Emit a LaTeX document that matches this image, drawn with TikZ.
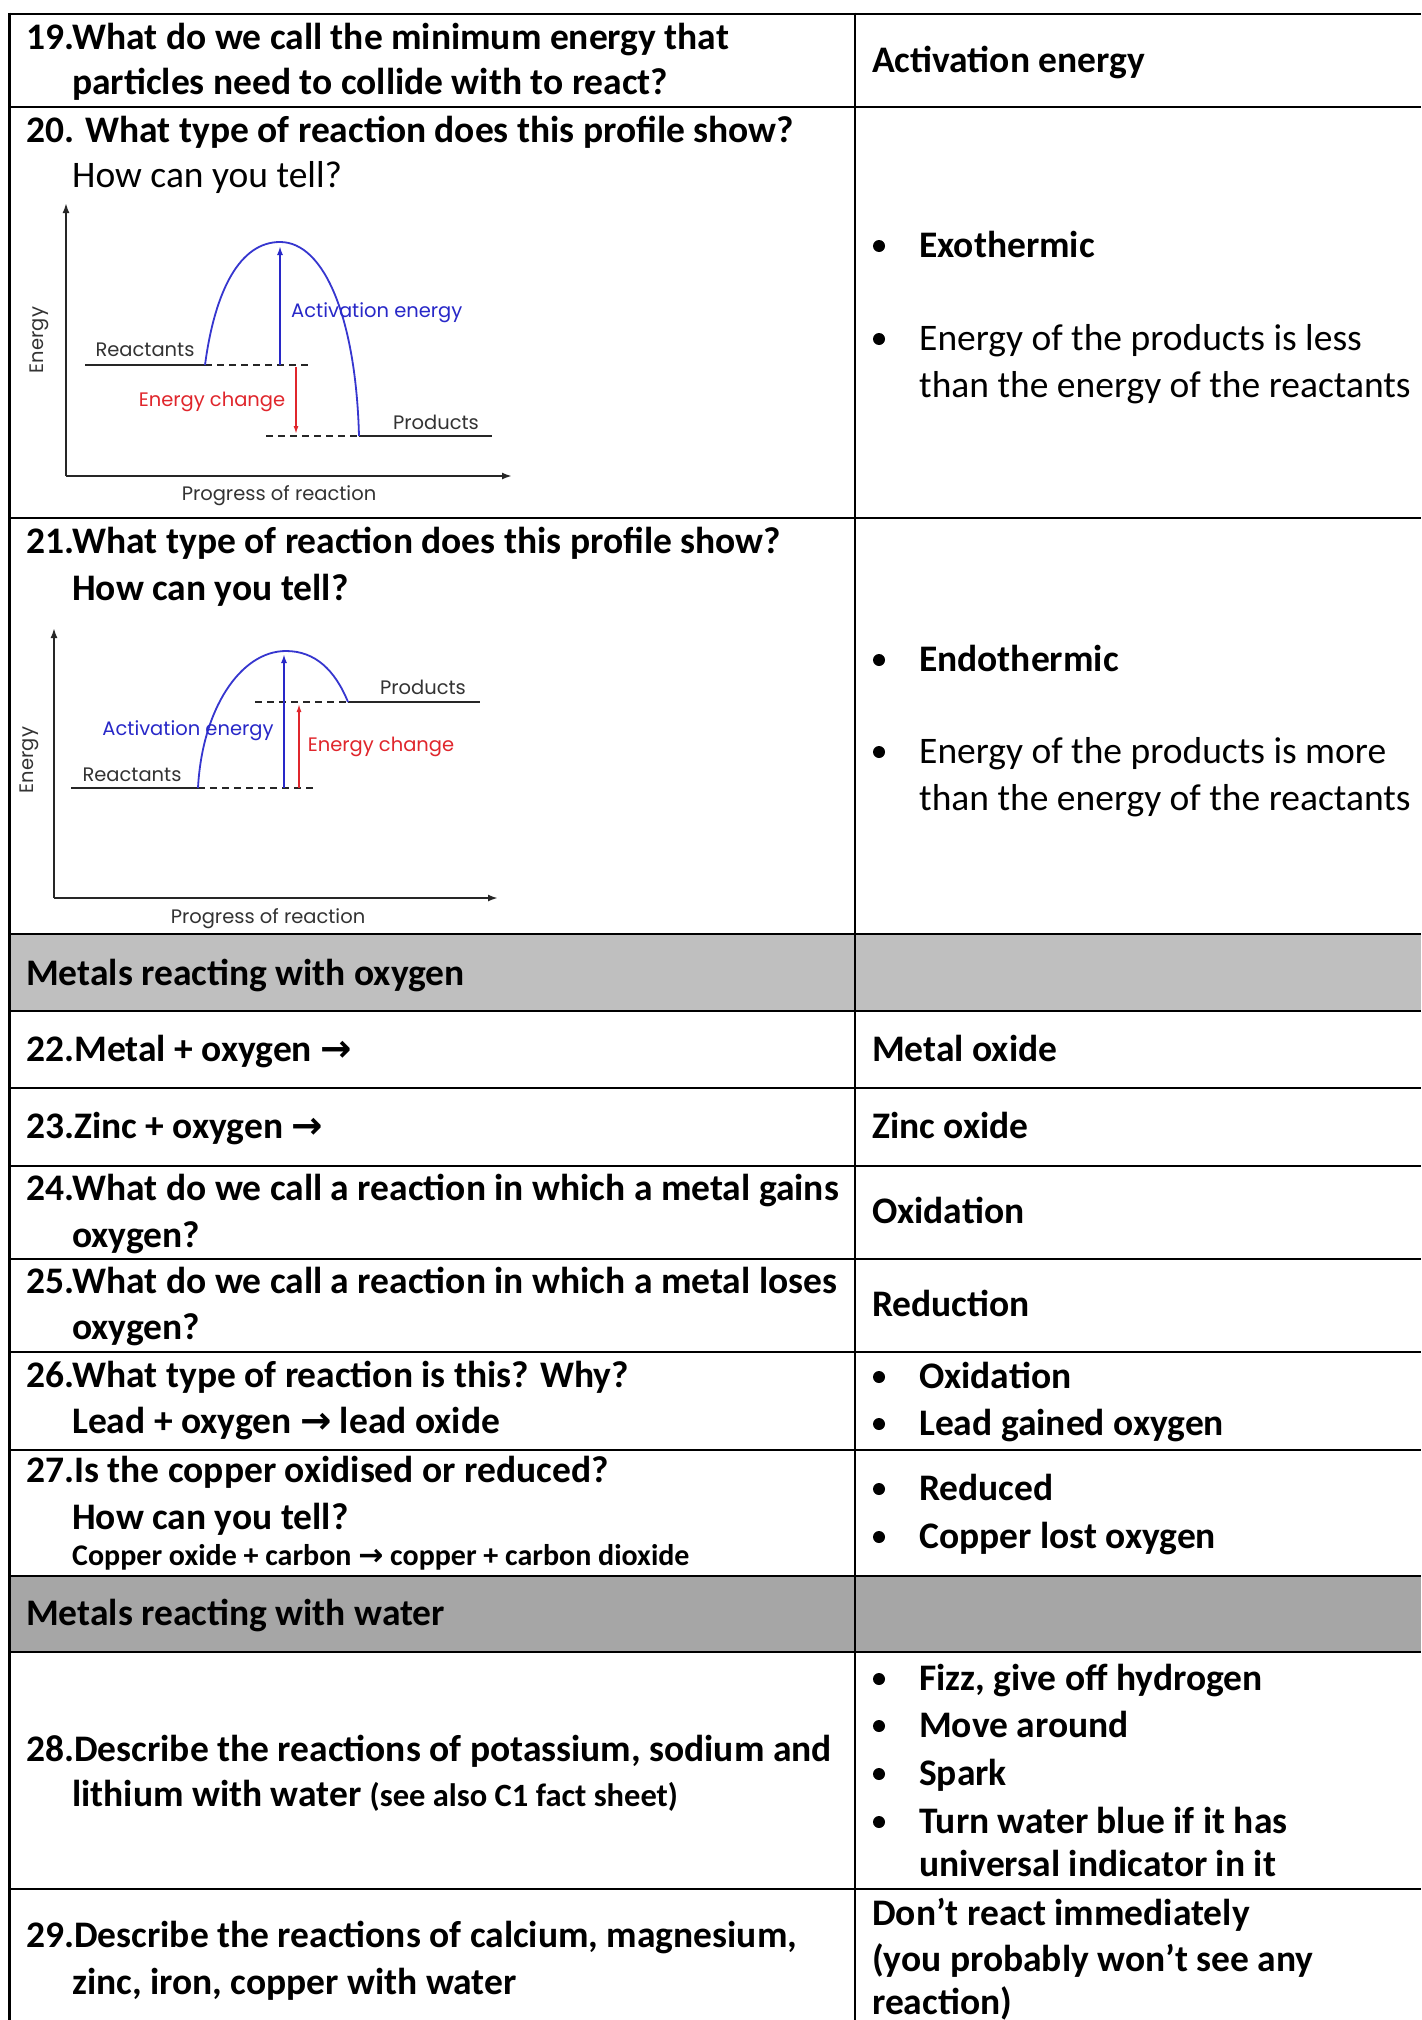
\documentclass[tikz,border=0pt]{standalone}
\usepackage{fontspec}
\setmainfont{Carlito}
\newfontfamily\chartfont{Poppins}
\newfontfamily\arrowfont{DejaVu Sans}
\usetikzlibrary{arrows.meta}

\definecolor{oxgrey}{HTML}{BFBFBF}
\definecolor{watergrey}{HTML}{A6A6A6}
\definecolor{curveblue}{HTML}{3636CF}
\definecolor{labelblue}{HTML}{2828C8}
\definecolor{changered}{HTML}{E0262C}

\newcommand{\yields}{{\arrowfont\bfseries →}}

\tikzset{
    rule/.style={line width=2.5pt},
    qtext/.style={anchor=base west, inner sep=0pt, font=\bfseries\fontsize{37.5}{46}\selectfont},
    ptext/.style={anchor=base west, inner sep=0pt, font=\fontsize{37.5}{46}\selectfont},
    stext/.style={anchor=base west, inner sep=0pt, font=\bfseries\fontsize{30}{36}\selectfont},
    bulletdot/.style={circle, fill=black, inner sep=0pt, minimum size=12pt},
    chartlabel/.style={inner sep=0pt, font=\chartfont\fontsize{19.5}{22}\selectfont},
    axis/.style={black!85, line width=2pt, -{Latex[length=10pt,width=7pt]}},
    level/.style={black!85, line width=1.8pt},
    guide/.style={black!85, line width=1.6pt, dash pattern=on 7pt off 5pt},
    hump/.style={curveblue, line width=1.8pt},
    aearrow/.style={labelblue, line width=1.8pt, -{Latex[length=9pt,width=6pt]}},
    dharrow/.style={changered, line width=1.5pt, -{Latex[length=8pt,width=5pt]}},
}

\begin{document}
\begin{tikzpicture}[x=1pt,y=-1pt,black]

    % Page
    \useasboundingbox (0,0) rectangle (1421,2020);
    \fill[white] (0,0) rectangle (1421,2020);

    % Header shading
    \fill[oxgrey] (9.5,934) rectangle (1421,1011);
    \fill[watergrey] (9.5,1576) rectangle (1421,1652);

    % Rules
    \foreach \y in {14,107,518,934,1011,1088,1166,1259,1352,1450,1576,1652,1889}
        \draw[rule] (9.5,\y) -- (1421,\y);
    \draw[rule] (9.5,12.75) -- (9.5,2020);
    \draw[rule] (855,12.75) -- (855,2020);

    % Question 19
    \node[qtext] (q19a) at (26,50) {19.What do we call the minimum energy that};
    \node[qtext] (q19b) at (72,95) {particles need to collide with to react?};
    \node[qtext] (a19) at (872,73) {Activation energy};

    % Question 20
    \node[qtext] (q20a) at (26,143) {20. What type of reaction does this profile show?};
    \node[ptext] (q20b) at (72,188) {How can you tell?};
    \node[bulletdot] (b20a) at (879,246) {};
    \node[qtext] (a20a) at (919,257) {Exothermic};
    \node[bulletdot] (b20b) at (879,339) {};
    \node[ptext] (a20b) at (919,350) {Energy of the products is less};
    \node[ptext] (a20c) at (919,397) {than the energy of the reactants};

    % Profile 1 - coordinates
    \coordinate(O1) at (66,476);
    \coordinate(Y1) at (66,203);
    \coordinate(X1) at (512,476);
    \coordinate(RA) at (85,365);
    \coordinate(RB) at (205,365);
    \coordinate(RC) at (312,365);
    \coordinate(PA) at (266,436);
    \coordinate(PB) at (359,436);
    \coordinate(PC) at (492,436);
    \coordinate(T1) at (280,242);
    \coordinate(EA1) at (280,365);
    \coordinate(EB1) at (280,246);
    \coordinate(HA1) at (296,367);
    \coordinate(HB1) at (296,434);

    % Profile 1 - axes and levels
    \draw[axis] (O1) -- (Y1);
    \draw[axis] (O1) -- (X1);
    \draw[level] (RA) -- (RB);
    \draw[guide] (RB) -- (RC);
    \draw[guide] (PA) -- (PB);
    \draw[level] (PB) -- (PC);

    % Profile 1 - hump
    \draw[hump] (RB) .. controls (215,290) and (240,242) .. (T1)
                     .. controls (325,242) and (356,320) .. (PB);
    \draw[aearrow] (EA1) -- (EB1);
    \draw[dharrow] (HA1) -- (HB1);

    % Profile 1 - labels
    \node[chartlabel, rotate=90, black!80] (energy1) at (39,340) {Energy};
    \node[chartlabel, black!80] (progress1) at (279,496) {Progress of reaction};
    \node[chartlabel, black!80] (react1) at (145,350) {Reactants};
    \node[chartlabel, black!80] (prod1) at (436,422) {Products};
    \node[chartlabel, labelblue, anchor=west] (act1) at (291,313) {Activation energy};
    \node[chartlabel, changered] (change1) at (212,402) {Energy change};

    % Question 21
    \node[qtext] (q21a) at (26,553) {21.What type of reaction does this profile show?};
    \node[qtext] (q21b) at (72,600) {How can you tell?};
    \node[bulletdot] (b21a) at (879,660) {};
    \node[qtext] (a21a) at (919,671) {Endothermic};
    \node[bulletdot] (b21b) at (879,752) {};
    \node[ptext] (a21b) at (919,763) {Energy of the products is more};
    \node[ptext] (a21c) at (919,810) {than the energy of the reactants};

    % Profile 2 - coordinates
    \coordinate(O2) at (54,898);
    \coordinate(Y2) at (54,628);
    \coordinate(X2) at (498,898);
    \coordinate(SA) at (71,788);
    \coordinate(SB) at (198,788);
    \coordinate(SC) at (316,788);
    \coordinate(QA) at (255,702);
    \coordinate(QB) at (348,702);
    \coordinate(QC) at (480,702);
    \coordinate(T2) at (286,651);
    \coordinate(EA2) at (284,788);
    \coordinate(EB2) at (284,654);
    \coordinate(HA2) at (299,788);
    \coordinate(HB2) at (299,704);

    % Profile 2 - axes and levels
    \draw[axis] (O2) -- (Y2);
    \draw[axis] (O2) -- (X2);
    \draw[level] (SA) -- (SB);
    \draw[guide] (SB) -- (SC);
    \draw[guide] (QA) -- (QB);
    \draw[level] (QB) -- (QC);

    % Profile 2 - hump
    \draw[hump] (SB) .. controls (202,710) and (240,651) .. (T2)
                     .. controls (315,651) and (335,670) .. (QB);
    \draw[aearrow] (EA2) -- (EB2);
    \draw[dharrow] (HA2) -- (HB2);

    % Profile 2 - labels
    \node[chartlabel, rotate=90, black!80] (energy2) at (29,760) {Energy};
    \node[chartlabel, black!80] (progress2) at (268,919) {Progress of reaction};
    \node[chartlabel, black!80] (react2) at (132,775) {Reactants};
    \node[chartlabel, black!80] (prod2) at (423,687) {Products};
    \node[chartlabel, labelblue] (act2) at (188,731) {Activation energy};
    \node[chartlabel, changered] (change2) at (381,747) {Energy change};

    % Metals reacting with oxygen
    \node[qtext] (headox) at (26,985) {Metals reacting with oxygen};

    \node[qtext] (q22) at (26,1061) {22.Metal + oxygen \yields};
    \node[qtext] (a22) at (872,1061) {Metal oxide};

    \node[qtext] (q23) at (26,1138) {23.Zinc + oxygen \yields};
    \node[qtext] (a23) at (872,1138) {Zinc oxide};

    \node[qtext] (q24a) at (26,1200) {24.What do we call a reaction in which a metal gains};
    \node[qtext] (q24b) at (72,1247) {oxygen?};
    \node[qtext] (a24) at (872,1223) {Oxidation};

    \node[qtext] (q25a) at (26,1293) {25.What do we call a reaction in which a metal loses};
    \node[qtext] (q25b) at (72,1339) {oxygen?};
    \node[qtext] (a25) at (872,1316) {Reduction};

    \node[qtext] (q26a) at (26,1387) {26.What type of reaction is this? Why?};
    \node[qtext] (q26b) at (72,1433) {Lead + oxygen \yields{} lead oxide};
    \node[bulletdot] (b26a) at (879,1377) {};
    \node[qtext] (a26a) at (919,1388) {Oxidation};
    \node[bulletdot] (b26b) at (879,1424) {};
    \node[qtext] (a26b) at (919,1435) {Lead gained oxygen};

    \node[qtext] (q27a) at (26,1482) {27.Is the copper oxidised or reduced?};
    \node[qtext] (q27b) at (72,1529) {How can you tell?};
    \node[stext] (q27c) at (72,1565) {Copper oxide + carbon \yields{} copper + carbon dioxide};
    \node[bulletdot] (b27a) at (879,1489) {};
    \node[qtext] (a27a) at (919,1500) {Reduced};
    \node[bulletdot] (b27b) at (879,1537) {};
    \node[qtext] (a27b) at (919,1548) {Copper lost oxygen};

    % Metals reacting with water
    \node[qtext] (headwater) at (26,1625) {Metals reacting with water};

    \node[qtext] (q28a) at (26,1761) {28.Describe the reactions of potassium, sodium and};
    \node[qtext] (q28b) at (72,1806) {lithium with water {\fontsize{32.5}{36}\selectfont(see also C1 fact sheet)}};
    \node[bulletdot] (b28a) at (879,1679) {};
    \node[qtext] (a28a) at (919,1690) {Fizz, give off hydrogen};
    \node[bulletdot] (b28b) at (879,1726) {};
    \node[qtext] (a28b) at (919,1737) {Move around};
    \node[bulletdot] (b28c) at (879,1774) {};
    \node[qtext] (a28c) at (919,1785) {Spark};
    \node[bulletdot] (b28d) at (879,1822) {};
    \node[qtext] (a28d) at (919,1833) {Turn water blue if it has};
    \node[qtext] (a28e) at (919,1876) {universal indicator in it};

    \node[qtext] (q29a) at (26,1947) {29.Describe the reactions of calcium, magnesium,};
    \node[qtext] (q29b) at (72,1994) {zinc, iron, copper with water};
    \node[qtext] (a29a) at (872,1925) {Don’t react immediately};
    \node[qtext] (a29b) at (872,1971) {(you probably won’t see any};
    \node[qtext] (a29c) at (872,2014) {reaction)};

\end{tikzpicture}
\end{document}
